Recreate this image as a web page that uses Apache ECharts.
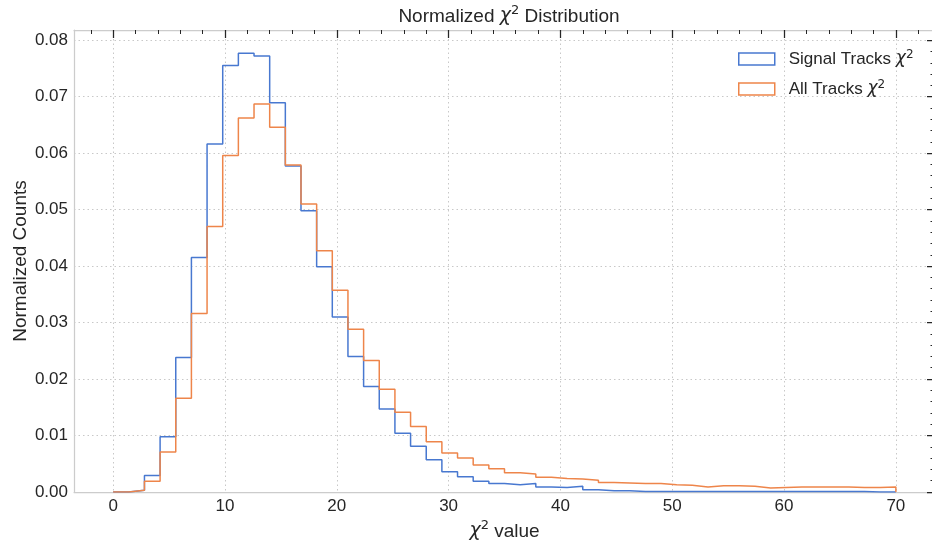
<!DOCTYPE html>
<html><head><meta charset="utf-8">
<script src="https://cdn.jsdelivr.net/npm/echarts@6/dist/echarts.min.js"></script>
<style>html,body{margin:0;padding:0;background:#fff}#c{width:932px;height:548px}</style>
</head><body><div id="c"></div>
<script>
// ---- data ----
const binEdges = [0,1.4,2.8,4.2,5.6,7,8.4,9.8,11.2,12.6,14,15.4,16.8,18.2,19.6,21,22.4,23.8,25.2,26.6,28,29.4,30.8,32.2,33.6,35,36.4,37.8,39.2,40.6,42,43.4,44.8,46.2,47.6,49,50.4,51.8,53.2,54.6,56,57.4,58.8,60.2,61.6,63,64.4,65.8,67.2,68.6,70];
const signalValues = [0,0.0003,0.0029,0.0098,0.0238,0.0415,0.0616,0.0755,0.0777,0.0772,
  0.0689,0.0577,0.0498,0.0399,0.0310,0.0240,0.0187,0.0147,0.0104,0.0081,
  0.0057,0.0036,0.0027,0.0019,0.0015,0.0013,0.0015,0.0009,0.0008,0.0010,
  0.0004,0.0002,0.0002,0.0001,0.0001,0.0001,0.0001,0.0001,0.0001,0.0001,
  0.0001,0.0001,0.0001,0.0001,0.0001,0.0001,0.0001,0.0001,0,0];
const allValues = [0,0.0003,0.0019,0.0071,0.0166,0.0316,0.0470,0.0596,0.0662,0.0687,
  0.0646,0.0579,0.0510,0.0427,0.0357,0.0288,0.0233,0.0182,0.0141,0.0116,
  0.0089,0.0069,0.0060,0.0048,0.0041,0.0034,0.0032,0.0026,0.0024,0.0023,
  0.0021,0.0017,0.0016,0.0015,0.0015,0.0013,0.0012,0.0009,0.0011,0.0011,
  0.0010,0.0007,0.0008,0.0009,0.0009,0.0009,0.0009,0.0008,0.0008,0.0009];
const seriesNames = ['Signal Tracks χ²', 'All Tracks χ²'];
const xTickValues = [0,10,20,30,40,50,60,70];
const xMinorTickValues = [-2,2,4,6,8,12,14,16,18,22,24,26,28,32,34,36,38,42,44,46,48,52,54,56,58,62,64,66,68,72];
const yTickValues = [0,0.01,0.02,0.03,0.04,0.05,0.06,0.07,0.08];
const yMinorTickValues = [0.002,0.004,0.006,0.008,0.012,0.014,0.016,0.018,0.022,0.024,0.026,0.028,
  0.032,0.034,0.036,0.038,0.042,0.044,0.046,0.048,0.052,0.054,0.056,0.058,
  0.062,0.064,0.066,0.068,0.072,0.074,0.076,0.078];

// ---- styles ----
const FONT = "'Liberation Sans', Arial, sans-serif";
const MATH = "'DejaVu Sans', sans-serif";
const TEXT = '#262626';
const SPINE = '#cccccc';
const GRIDC = '#c8c8c8';
const BLUE = '#4878d0', ORANGE = '#ee854a';

function histLine(values) {
  const d = values.map((v, i) => [binEdges[i], v]);
  d.push([binEdges[binEdges.length - 1], 0]);
  return d;
}
function richSet(size, lh) {
  return {
    n: {fontFamily: FONT, fontSize: size, color: TEXT, lineHeight: lh},
    c: {fontFamily: MATH, fontStyle: 'italic', fontSize: size, color: TEXT, lineHeight: lh},
    s: {fontFamily: MATH, fontSize: Math.round(size * 0.7), color: TEXT, verticalAlign: 'top', lineHeight: lh}
  };
}

const chart = echarts.init(document.getElementById('c'), null, {renderer: 'canvas'});
const xRange = {min: -3.5, max: 73.5};
const yRange = {min: 0, max: 0.0818};
const gridBox = {left: 74, right: -3, top: 30, bottom: 56, containLabel: false, outerBoundsMode: 'none'};

const option = {
  animation: false,
  backgroundColor: '#ffffff',
  title: {
    text: '{n|Normalized }{c|χ}{s|2}{n| Distribution}',
    left: 504, top: -1, textAlign: 'center',
    textStyle: {fontFamily: FONT, fontSize: 19, fontWeight: 'normal', color: TEXT, rich: richSet(19, 25)}
  },
  legend: {
    orient: 'vertical', left: 738, top: 49, padding: 0, itemGap: 10,
    itemWidth: 36, itemHeight: 12,
    formatter: function (name) {
      const base = name.replace(' χ²', '');
      return '{n|' + base + ' }{c|χ}{s|2}';
    },
    textStyle: {fontFamily: FONT, fontSize: 17, color: TEXT, lineHeight: 20,
      rich: (function(){ const r = richSet(17, 20); r.n.padding = [0,0,0,9]; return r; })()},
    data: [
      {name: seriesNames[0], icon: 'rect', itemStyle: {color: 'rgba(0,0,0,0)', borderColor: BLUE, borderWidth: 1.5}},
      {name: seriesNames[1], icon: 'rect', itemStyle: {color: 'rgba(0,0,0,0)', borderColor: ORANGE, borderWidth: 1.5}}
    ]
  },
  grid: [Object.assign({}, gridBox), Object.assign({}, gridBox)],
  xAxis: [
    {
      gridIndex: 0, type: 'value', position: 'bottom', min: xRange.min, max: xRange.max, splitNumber: 8,
      axisLine: {show: true, onZero: false, lineStyle: {color: SPINE, width: 1.25}},
      axisTick: {show: false},
      axisLabel: {showMinLabel: false, showMaxLabel: false, color: TEXT, fontSize: 17, fontFamily: FONT, margin: 6},
      splitLine: {show: true, lineStyle: {color: GRIDC, type: [1.5, 3], width: 1}},
      name: '{c|χ}{s|2}{n| value}', nameLocation: 'middle', nameGap: 27, nameMoveOverlap: false,
      nameTextStyle: {fontFamily: FONT, fontSize: 19, color: TEXT, rich: richSet(19, 25)}
    },
    {
      gridIndex: 0, type: 'value', position: 'top', min: xRange.min, max: xRange.max, splitNumber: 8,
      axisLine: {show: true, onZero: false, lineStyle: {color: SPINE, width: 1.25}},
      axisTick: {show: true, inside: true, length: 8, customValues: xTickValues, lineStyle: {color: TEXT, width: 1.25}},
      axisLabel: {show: false}, splitLine: {show: false}
    },
    {
      gridIndex: 1, type: 'value', position: 'top', min: xRange.min, max: xRange.max,
      axisLine: {show: false, onZero: false},
      axisTick: {show: true, inside: true, length: 4, customValues: xMinorTickValues, lineStyle: {color: TEXT, width: 1}},
      axisLabel: {show: false}, splitLine: {show: false}
    }
  ],
  yAxis: [
    {
      gridIndex: 0, type: 'value', position: 'left', min: yRange.min, max: yRange.max, interval: 0.01,
      axisLine: {show: true, onZero: false, lineStyle: {color: SPINE, width: 1.25}},
      axisTick: {show: false},
      axisLabel: {showMaxLabel: false, color: TEXT, fontSize: 17, fontFamily: FONT, margin: 6,
        formatter: v => v.toFixed(2)},
      splitLine: {show: true, lineStyle: {color: GRIDC, type: [1.5, 3], width: 1}},
      name: 'Normalized Counts', nameLocation: 'middle', nameGap: 44, nameRotate: 90, nameMoveOverlap: false,
      nameTextStyle: {fontFamily: FONT, fontSize: 19, color: TEXT}
    },
    {
      gridIndex: 0, type: 'value', position: 'right', min: yRange.min, max: yRange.max, interval: 0.01,
      axisLine: {show: true, onZero: false, lineStyle: {color: SPINE, width: 1.25}},
      axisTick: {show: true, inside: true, length: 8, customValues: yTickValues, lineStyle: {color: TEXT, width: 1.25}},
      axisLabel: {show: false}, splitLine: {show: false}
    },
    {
      gridIndex: 1, type: 'value', position: 'right', min: yRange.min, max: yRange.max, interval: 0.01,
      axisLine: {show: false, onZero: false},
      axisTick: {show: true, inside: true, length: 4.5, customValues: yMinorTickValues, lineStyle: {color: TEXT, width: 1}},
      axisLabel: {show: false}, splitLine: {show: false}
    }
  ],
  series: [
    {
      name: seriesNames[0], type: 'line', xAxisIndex: 0, yAxisIndex: 0, step: 'end',
      data: histLine(signalValues), symbol: 'none', showSymbol: false,
      lineStyle: {color: BLUE, width: 1.5}, itemStyle: {color: BLUE}, z: 3
    },
    {
      name: seriesNames[1], type: 'line', xAxisIndex: 0, yAxisIndex: 0, step: 'end',
      data: histLine(allValues), symbol: 'none', showSymbol: false,
      lineStyle: {color: ORANGE, width: 1.5}, itemStyle: {color: ORANGE}, z: 4
    }
  ]
};
chart.setOption(option);
</script>
</body></html>
